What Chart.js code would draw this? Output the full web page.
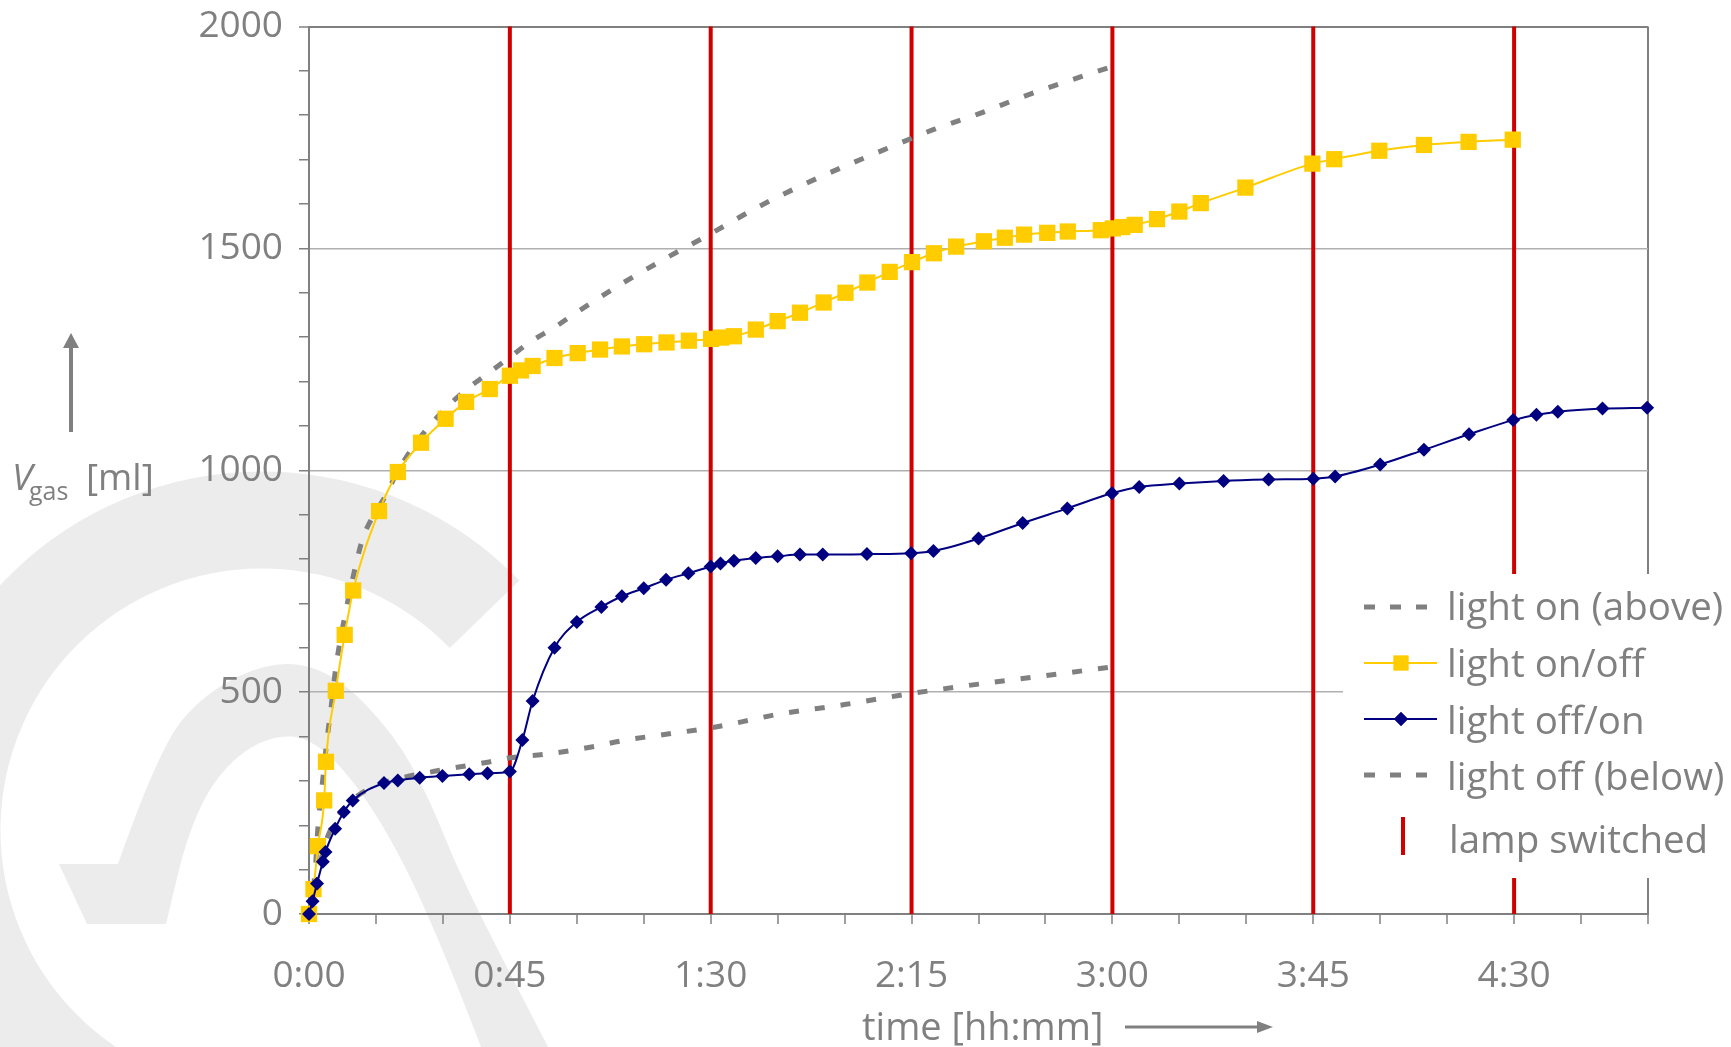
<!DOCTYPE html>
<html>
<head>
<meta charset="utf-8">
<script src="https://cdn.jsdelivr.net/npm/chart.js@4.4.0/dist/chart.umd.min.js"></script>
<style>
  html, body { margin: 0; padding: 0; background: #fff; }
  #gasChart { display: block; }
</style>
</head>
<body>
<canvas id="gasChart" width="1731" height="1047"></canvas>
<script>
// all times in minutes, volumes in ml
const onOffTime = [0, 1, 2, 3.4, 3.8, 6, 8, 9.9, 15.7, 19.9, 25.1, 30.6, 35.2, 40.5, 45, 47.5, 50.1, 55, 60.2, 65.2, 70.1, 75.1, 80.1, 85.1, 90.1, 92.4, 95.2, 100.1, 105, 110, 115.3, 120.2, 125.1, 130.1, 135.1, 140, 145, 151.2, 155.9, 160.2, 165.4, 170, 177.4, 180.1, 182.2, 185, 190, 195, 199.8, 209.8, 224.8, 229.7, 239.8, 249.8, 259.8, 269.7];
const onOffVol = [0, 56, 153, 256, 343, 503, 629, 729, 908, 996, 1062, 1116, 1154, 1183, 1213, 1225, 1235, 1253, 1264, 1272, 1279, 1284, 1288, 1292, 1296, 1299, 1302, 1317, 1336, 1355, 1378, 1400, 1423, 1447, 1469, 1489, 1504, 1516, 1524, 1531, 1535, 1538, 1541, 1545, 1548, 1553, 1566, 1583, 1602, 1637, 1691, 1701, 1720, 1733, 1740, 1745];

const offOnTime = [0, 0.8, 1.8, 3.1, 3.7, 5.85, 7.8, 9.8, 16.8, 19.9, 24.8, 29.9, 35.9, 40, 45, 47.8, 50.1, 55, 60, 65.5, 70.1, 75, 80, 85, 90, 92.2, 95.2, 100.1, 105, 110, 115.1, 125, 134.9, 139.9, 150, 159.9, 169.9, 179.9, 186, 195, 204.9, 215, 225, 229.9, 240, 249.8, 259.9, 269.8, 275, 279.8, 289.8, 299.8];
const offOnVol = [0, 29, 69, 118, 140, 192, 230, 256, 295, 301, 307, 311, 315, 317, 321, 392, 480, 600, 658, 692, 716, 734, 753, 768, 783, 790, 796, 802, 806, 810, 810, 811, 813, 818, 846, 881, 914, 948, 962, 970, 976, 979, 981, 986, 1013, 1046, 1081, 1113, 1125, 1132, 1139, 1141];

const aboveTime = [0, 1.4, 2, 3, 4, 5, 6, 8, 10, 12, 14, 17, 20, 25, 30, 35, 40, 45, 50, 55, 60, 70, 80, 90, 100, 110, 120, 130, 140, 150, 160, 170, 180];
const aboveVol = [0, 100, 195, 295, 390, 470, 555, 670, 765, 845, 890, 940, 1000, 1075, 1133, 1180, 1217, 1255, 1292, 1322, 1356, 1420, 1478, 1533, 1590, 1640, 1685, 1727, 1768, 1803, 1842, 1877, 1910];

const belowTime = [0, 1, 2, 3, 4, 6, 8, 10, 15, 20, 30, 40, 45, 53, 63.6, 71, 80, 91.4, 97.4, 105, 120, 135, 150, 165, 180];
const belowVol = [0, 45, 95, 135, 170, 210, 240, 260, 290, 305, 325, 342, 352, 360, 377, 392, 405, 422, 434, 450, 472, 497, 518, 537, 557];

const switchTimes = [45, 90, 135, 180, 225, 270];

const xLabelMinutes = [0, 45, 90, 135, 180, 225, 270];
const xTickLabels = ['0:00', '0:45', '1:30', '2:15', '3:00', '3:45', '4:30'];
const yTickLabels = [0, 500, 1000, 1500, 2000];

const GRAY = '#808080';
const RED = '#d00000';
const FONT = '"Open Sans", "Noto Sans", sans-serif';

const toPoints = (t, v) => t.map((x, i) => ({ x: x, y: v[i] }));

// smooth path through a list of points
function smoothPath(ctx, pts) {
    ctx.lineTo(pts[0][0], pts[0][1]);
    for (let i = 1; i < pts.length - 1; i++) {
        const mx = (pts[i][0] + pts[i + 1][0]) / 2;
        const my = (pts[i][1] + pts[i + 1][1]) / 2;
        ctx.quadraticCurveTo(pts[i][0], pts[i][1], mx, my);
    }
    const last = pts[pts.length - 1];
    ctx.lineTo(last[0], last[1]);
}

function arrow(ctx, x1, y1, x2, y2, w, head, half) {
    const ang = Math.atan2(y2 - y1, x2 - x1);
    const bx = x2 - Math.cos(ang) * head, by = y2 - Math.sin(ang) * head;
    ctx.lineWidth = w;
    ctx.beginPath();
    ctx.moveTo(x1, y1);
    ctx.lineTo(bx, by);
    ctx.stroke();
    ctx.beginPath();
    ctx.moveTo(x2, y2);
    ctx.lineTo(bx - Math.sin(ang) * half, by + Math.cos(ang) * half);
    ctx.lineTo(bx + Math.sin(ang) * half, by - Math.cos(ang) * half);
    ctx.closePath();
    ctx.fill();
}

// faint logo in the background
const watermark = {
    id: 'watermark',
    beforeDraw(chart) {
        const ctx = chart.ctx;
        ctx.save();
        ctx.strokeStyle = '#ececec';
        ctx.fillStyle = '#ececec';
        ctx.lineWidth = 97;
        ctx.beginPath();
        ctx.arc(262, 830, 310, -0.77, Math.PI / 2, true);
        ctx.stroke();
        ctx.beginPath();
        ctx.moveTo(59, 864);
        smoothPath(ctx, [[118, 864], [158, 750], [205, 692], [276, 659], [335, 673], [395, 735], [430, 800], [462, 880], [548, 1047]]);
        smoothPath(ctx, [[481, 1047], [434, 924], [375, 808], [316, 738], [268, 735], [221, 769], [189, 828], [166, 924]]);
        ctx.lineTo(87, 924);
        ctx.closePath();
        ctx.fill();
        ctx.restore();
    }
};

// vertical marks where the lamp was switched
const lampLines = {
    id: 'lampLines',
    beforeDatasetsDraw(chart) {
        const { ctx, chartArea, scales } = chart;
        ctx.save();
        ctx.strokeStyle = RED;
        ctx.lineWidth = 4;
        switchTimes.forEach(t => {
            const px = scales.x.getPixelForValue(t);
            ctx.beginPath();
            ctx.moveTo(px, chartArea.top);
            ctx.lineTo(px, chartArea.bottom);
            ctx.stroke();
        });
        ctx.restore();
    }
};

const axisTitles = {
    id: 'axisTitles',
    afterDraw(chart) {
        const ctx = chart.ctx;
        ctx.save();
        ctx.fillStyle = GRAY;
        ctx.strokeStyle = GRAY;
        ctx.textAlign = 'left';
        ctx.textBaseline = 'alphabetic';
        ctx.font = 'italic 37px ' + FONT;
        ctx.fillText('V', 12, 490);
        ctx.font = '25px ' + FONT;
        ctx.fillText('gas', 29, 500);
        ctx.font = '37px ' + FONT;
        ctx.fillText('[ml]', 86, 490);
        arrow(ctx, 71, 432, 71, 333, 4, 15, 8);
        ctx.font = '38px ' + FONT;
        ctx.fillText('time [hh:mm]', 862, 1040);
        arrow(ctx, 1125, 1027, 1273, 1027, 3, 16, 6);
        ctx.restore();
    }
};

// legend box laid over the lower right of the plot
const boxLegend = {
    id: 'boxLegend',
    afterDraw(chart) {
        const ctx = chart.ctx;
        const ds = chart.data.datasets;
        const rows = [
            { d: ds[2], y: 607, base: 620 },
            { d: ds[1], y: 663, base: 677 },
            { d: ds[0], y: 719, base: 734 },
            { d: ds[3], y: 775, base: 790 }
        ];
        ctx.save();
        ctx.fillStyle = '#fff';
        ctx.fillRect(1343, 574, 388, 304);
        ctx.font = '38.5px ' + FONT;
        ctx.textAlign = 'left';
        ctx.textBaseline = 'alphabetic';
        rows.forEach(r => {
            const d = r.d;
            ctx.strokeStyle = d.borderColor;
            if (d.borderDash) {
                ctx.lineWidth = 5;
                ctx.setLineDash([11, 15]);
                ctx.beginPath();
                ctx.moveTo(1364, r.y);
                ctx.lineTo(1432, r.y);
                ctx.stroke();
                ctx.setLineDash([]);
            } else {
                ctx.lineWidth = 2;
                ctx.beginPath();
                ctx.moveTo(1364, r.y);
                ctx.lineTo(1437, r.y);
                ctx.stroke();
                ctx.fillStyle = d.backgroundColor;
                Chart.helpers.drawPoint(ctx, { pointStyle: d.pointStyle, radius: d.pointStyle === 'rect' ? 10.5 : 7, rotation: 0, borderWidth: 0 }, 1401, r.y);
                ctx.fill();
            }
            ctx.fillStyle = GRAY;
            ctx.fillText(d.label, 1447, r.base);
        });
        ctx.strokeStyle = RED;
        ctx.lineWidth = 4;
        ctx.beginPath();
        ctx.moveTo(1403, 817);
        ctx.lineTo(1403, 855);
        ctx.stroke();
        ctx.fillStyle = GRAY;
        ctx.fillText('lamp switched', 1449, 853);
        ctx.restore();
    }
};

const ctx = document.getElementById('gasChart').getContext('2d');
new Chart(ctx, {
    type: 'line',
    data: {
        datasets: [{
            label: 'light off/on',
            data: toPoints(offOnTime, offOnVol),
            borderColor: '#000080',
            backgroundColor: '#000080',
            borderWidth: 2,
            pointStyle: 'rectRot',
            pointRadius: 7,
            pointBorderWidth: 0,
            cubicInterpolationMode: 'monotone',
            clip: false
        }, {
            label: 'light on/off',
            data: toPoints(onOffTime, onOffVol),
            borderColor: '#ffcc00',
            backgroundColor: '#ffcc00',
            borderWidth: 2,
            pointStyle: 'rect',
            pointRadius: 11.5,
            pointBorderWidth: 0,
            cubicInterpolationMode: 'monotone',
            clip: false
        }, {
            label: 'light on (above)',
            data: toPoints(aboveTime, aboveVol),
            borderColor: GRAY,
            borderWidth: 5,
            borderDash: [10, 16],
            pointRadius: 0,
            cubicInterpolationMode: 'monotone'
        }, {
            label: 'light off (below)',
            data: toPoints(belowTime, belowVol),
            borderColor: GRAY,
            borderWidth: 5,
            borderDash: [10, 16],
            pointRadius: 0,
            cubicInterpolationMode: 'monotone'
        }]
    },
    options: {
        responsive: false,
        devicePixelRatio: 1,
        animation: false,
        layout: { padding: { left: 0, right: 83, top: 26.5, bottom: 0 } },
        plugins: {
            legend: { display: false },
            tooltip: { enabled: false }
        },
        scales: {
            x: {
                type: 'linear',
                min: 0,
                max: 300,
                afterFit: (scale) => { scale.height = 133; },
                ticks: {
                    stepSize: 15,
                    autoSkip: false,
                    maxRotation: 0,
                    padding: 30,
                    color: GRAY,
                    font: { family: FONT, size: 37 },
                    callback: (value) => {
                        const i = xLabelMinutes.indexOf(value);
                        return i >= 0 ? xTickLabels[i] : '';
                    }
                },
                grid: {
                    color: (c) => (c.tick && c.tick.value === 300) ? GRAY : 'rgba(0,0,0,0)',
                    lineWidth: 2,
                    tickColor: GRAY,
                    tickLength: 10,
                    tickWidth: 1.5
                },
                border: { color: GRAY, width: 2 }
            },
            y: {
                min: 0,
                max: 2000,
                afterFit: (scale) => {
                    scale.width = 309;
                    scale.paddingTop = 20;
                    scale.paddingBottom = 20;
                },
                ticks: {
                    stepSize: 100,
                    autoSkip: false,
                    padding: 16,
                    color: GRAY,
                    font: { family: FONT, size: 37 },
                    callback: (value) => yTickLabels.includes(value) ? String(value) : ''
                },
                grid: {
                    color: (c) => {
                        if (!c.tick) return 'rgba(0,0,0,0)';
                        if (c.tick.value === 2000) return GRAY;
                        return c.tick.value % 500 === 0 ? '#b0b0b0' : 'rgba(0,0,0,0)';
                    },
                    lineWidth: (c) => (c.tick && c.tick.value === 2000) ? 2 : 1.5,
                    tickColor: GRAY,
                    tickLength: 10,
                    tickWidth: 1.5
                },
                border: { color: GRAY, width: 2 }
            }
        }
    },
    plugins: [watermark, lampLines, axisTitles, boxLegend]
});
</script>
</body>
</html>
